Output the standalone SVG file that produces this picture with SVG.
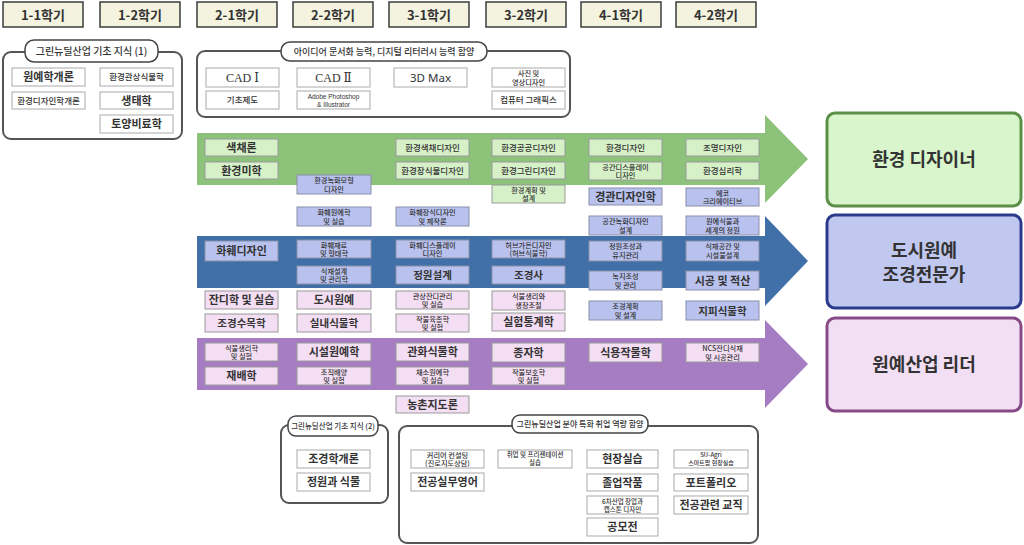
<svg xmlns="http://www.w3.org/2000/svg" width="1024" height="545" viewBox="0 0 1024 545">
<style>
text{font-family:"Noto Sans CJK KR","Noto Sans",sans-serif;fill:#333;text-anchor:middle}
.hdr{fill:#f3f3df;stroke:#3c3c3c;stroke-width:1.5}
.ht{font-size:13px;font-weight:700}
.grp{fill:#fff;stroke:#555;stroke-width:2}
.pill{fill:#fff;stroke:#444;stroke-width:1.5}
.pt{font-size:9px;font-weight:500}
.w{fill:#fff;stroke:#aaa;stroke-width:1}
.g{fill:#d6f0c8;stroke:#9a9a9a;stroke-width:1}
.b{fill:#b9c2ee;stroke:#8a90a8;stroke-width:1}
.p{fill:#f3def3;stroke:#9a9a9a;stroke-width:1}
.l{font-size:11px;font-weight:700}
.m{font-size:8.5px;font-weight:500}
.s{font-size:7.2px;font-weight:500}
.x{font-size:6.5px;font-weight:500}
.en{font-family:"Liberation Serif","DejaVu Serif",serif;font-size:12px;font-weight:400}
.car{font-size:18px;font-weight:700}
</style>

<!-- semester headers -->
<g id="headers">
<g id="h11"><rect class="hdr" x="3" y="2" width="80" height="25"/><text class="ht" x="43" y="19.5">1-1학기</text></g>
<g id="h12"><rect class="hdr" x="100" y="2" width="80" height="25"/><text class="ht" x="140" y="19.5">1-2학기</text></g>
<g id="h21"><rect class="hdr" x="197" y="2" width="80" height="25"/><text class="ht" x="237" y="19.5">2-1학기</text></g>
<g id="h22"><rect class="hdr" x="293" y="2" width="80" height="25"/><text class="ht" x="333" y="19.5">2-2학기</text></g>
<g id="h31"><rect class="hdr" x="389" y="2" width="80" height="25"/><text class="ht" x="429" y="19.5">3-1학기</text></g>
<g id="h32"><rect class="hdr" x="486" y="2" width="80" height="25"/><text class="ht" x="526" y="19.5">3-2학기</text></g>
<g id="h41"><rect class="hdr" x="581" y="2" width="80" height="25"/><text class="ht" x="621" y="19.5">4-1학기</text></g>
<g id="h42"><rect class="hdr" x="676" y="2" width="80" height="25"/><text class="ht" x="716" y="19.5">4-2학기</text></g>
</g>

<!-- connectors: track arrows -->
<g id="connectors">
<path d="M197,133 H765 V115 L808,159 L765,203 V185 H197 Z" fill="#8cc27a"/>
<path d="M197,236 H765 V216 L808,261 L765,306 V288 H197 Z" fill="#4170a8"/>
<path d="M197,338 H765 V320 L808,364 L765,408 V390 H197 Z" fill="#a67dc2"/>
</g>

<!-- group box 1 -->
<g id="basic1">
<rect class="grp" x="3" y="52" width="179" height="87" rx="8"/>
<rect class="pill" x="25" y="40" width="133" height="22" rx="9"/>
<text class="pt" x="91.5" y="54.5" style="font-size:10px">그린뉴딜산업 기초 지식 (1)</text>
</g>
<g id="n-wonye"><rect class="w" x="12" y="68" width="73" height="18"/><text class="l" x="48.5" y="81">원예학개론</text></g>
<g id="n-envdesign"><rect class="w" x="12" y="92" width="73" height="17"/><text class="m" x="48.5" y="103.5">환경디자인학개론</text></g>
<g id="n-envplant"><rect class="w" x="100" y="68" width="73" height="18"/><text class="m" x="136.5" y="80">환경관상식물학</text></g>
<g id="n-eco"><rect class="w" x="100" y="92" width="73" height="17"/><text class="l" x="136.5" y="104.5">생태학</text></g>
<g id="n-soil"><rect class="w" x="100" y="115" width="73" height="18"/><text class="l" x="136.5" y="128">토양비료학</text></g>

<!-- group box 2 -->
<g id="digital">
<rect class="grp" x="197" y="51" width="373" height="66" rx="8"/>
<rect class="pill" x="281" y="42" width="206" height="19" rx="9"/>
<text class="pt" x="384" y="55">아이디어 문서화 능력, 디지털 리터러시 능력 함양</text>
</g>
<g id="n-cad1"><rect class="w" x="206" y="68" width="73" height="19"/><text class="en" x="242.5" y="81.5">CAD Ⅰ</text></g>
<g id="n-draw"><rect class="w" x="206" y="91" width="73" height="18"/><text class="m" x="242.5" y="103">기초제도</text></g>
<g id="n-cad2"><rect class="w" x="297" y="68" width="73" height="19"/><text class="en" x="333.5" y="81.5">CAD Ⅱ</text></g>
<g id="n-adobe"><rect class="w" x="297" y="91" width="73" height="18"/><text class="x" x="333.5" y="99" style="font-family:'Liberation Sans',sans-serif;font-size:6.5px"><tspan x="333.5" y="99">Adobe Photoshop</tspan><tspan x="333.5" y="106.5">&amp; Illustrator</tspan></text></g>
<g id="n-3d"><rect class="w" x="394" y="68" width="73" height="19"/><text class="l" x="430.5" y="81.5" style="font-family:'Noto Sans',sans-serif;font-weight:400;font-size:11.5px">3D Max</text></g>
<g id="n-photo"><rect class="w" x="492" y="68" width="73" height="19"/><text class="s"><tspan x="528.5" y="76">사진 및</tspan><tspan x="528.5" y="84.5">영상디자인</tspan></text></g>
<g id="n-cg"><rect class="w" x="492" y="91" width="73" height="18"/><text class="m" x="528.5" y="103">컴퓨터 그래픽스</text></g>

<!-- green track -->
<g id="n-color"><rect class="g" x="205" y="139" width="73" height="17"/><text class="l" x="241.5" y="151.5">색채론</text></g>
<g id="n-aesth"><rect class="g" x="205" y="162" width="73" height="17"/><text class="l" x="241.5" y="174.5">환경미학</text></g>
<g id="n-greenmodel"><rect class="b" x="297" y="175" width="74" height="19"/><text class="s"><tspan x="334" y="183">환경녹화모형</tspan><tspan x="334" y="191.5">디자인</tspan></text></g>
<g id="n-flower"><rect class="b" x="297" y="207" width="74" height="19"/><text class="s"><tspan x="334" y="215">화훼원예학</tspan><tspan x="334" y="223.5">및 실습</tspan></text></g>
<g id="n-envcolor"><rect class="g" x="396" y="139" width="73" height="17"/><text class="m" x="432.5" y="150.5">환경색채디자인</text></g>
<g id="n-envdeco"><rect class="g" x="396" y="162" width="73" height="17"/><text class="m" x="432.5" y="173.5">환경장식물디자인</text></g>
<g id="n-floral"><rect class="b" x="396" y="207" width="73" height="19"/><text class="s"><tspan x="432.5" y="215">화훼장식디자인</tspan><tspan x="432.5" y="223.5">및 제작론</tspan></text></g>
<g id="n-public"><rect class="g" x="492" y="139" width="73" height="17"/><text class="m" x="528.5" y="150.5">환경공공디자인</text></g>
<g id="n-green"><rect class="g" x="492" y="162" width="73" height="17"/><text class="m" x="528.5" y="173.5">환경그린디자인</text></g>
<g id="n-envplan"><rect class="g" x="492" y="185" width="73" height="18"/><text class="s"><tspan x="528.5" y="192.5">환경계획 및</tspan><tspan x="528.5" y="201">설계</tspan></text></g>
<g id="n-envd"><rect class="g" x="589" y="139" width="73" height="17"/><text class="m" x="625.5" y="150.5">환경디자인</text></g>
<g id="n-display"><rect class="g" x="589" y="162" width="73" height="18"/><text class="s"><tspan x="625.5" y="169.5">공간디스플레이</tspan><tspan x="625.5" y="178">디자인</tspan></text></g>
<g id="n-landscape"><rect class="b" x="589" y="188" width="73" height="17"/><text class="l" x="625.5" y="200.5">경관디자인학</text></g>
<g id="n-spacegreen"><rect class="b" x="589" y="216" width="73" height="19"/><text class="s"><tspan x="625.5" y="224">공간녹화디자인</tspan><tspan x="625.5" y="232.5">설계</tspan></text></g>
<g id="n-light"><rect class="g" x="686" y="139" width="73" height="17"/><text class="m" x="722.5" y="150.5">조명디자인</text></g>
<g id="n-psych"><rect class="g" x="686" y="162" width="73" height="18"/><text class="m" x="722.5" y="174">환경심리학</text></g>
<g id="n-ecocreative"><rect class="b" x="686" y="188" width="73" height="18"/><text class="s"><tspan x="722.5" y="195.5">에코</tspan><tspan x="722.5" y="204">크리에이티브</tspan></text></g>
<g id="n-world"><rect class="b" x="686" y="216" width="73" height="19"/><text class="s"><tspan x="722.5" y="224">원예식물과</tspan><tspan x="722.5" y="232.5">세계의 정원</tspan></text></g>

<!-- blue track -->
<g id="n-flowerdesign"><rect class="b" x="205" y="241" width="73" height="20"/><text class="l" x="241.5" y="255">화훼디자인</text></g>
<g id="n-material"><rect class="b" x="297" y="240" width="74" height="18"/><text class="s"><tspan x="334" y="247.5">화훼재료</tspan><tspan x="334" y="256">및 형태학</tspan></text></g>
<g id="n-planting"><rect class="b" x="297" y="266" width="74" height="18"/><text class="s"><tspan x="334" y="273.5">식재설계</tspan><tspan x="334" y="282">및 관리학</tspan></text></g>
<g id="n-flowerdisp"><rect class="b" x="396" y="240" width="73" height="18"/><text class="s"><tspan x="432.5" y="247.5">화훼디스플레이</tspan><tspan x="432.5" y="256">디자인</tspan></text></g>
<g id="n-garden"><rect class="b" x="396" y="266" width="73" height="18"/><text class="l" x="432.5" y="279" style="font-size:10.5px">정원설계</text></g>
<g id="n-herb"><rect class="b" x="492" y="240" width="73" height="18"/><text class="s"><tspan x="528.5" y="247.5">허브가든디자인</tspan><tspan x="528.5" y="256">(허브식물학)</tspan></text></g>
<g id="n-history"><rect class="b" x="492" y="266" width="73" height="18"/><text class="l" x="528.5" y="279" style="font-size:10.5px">조경사</text></g>
<g id="n-maintain"><rect class="b" x="589" y="241" width="73" height="20"/><text class="s"><tspan x="625.5" y="249">정원조성과</tspan><tspan x="625.5" y="257.5">유지관리</tspan></text></g>
<g id="n-greenspace"><rect class="b" x="589" y="271" width="73" height="19"/><text class="s"><tspan x="625.5" y="279">녹지조성</tspan><tspan x="625.5" y="287.5">및 관리</tspan></text></g>
<g id="n-lplan"><rect class="b" x="589" y="301" width="73" height="19"/><text class="s"><tspan x="625.5" y="309">조경계획</tspan><tspan x="625.5" y="317.5">및 설계</tspan></text></g>
<g id="n-facility"><rect class="b" x="686" y="241" width="73" height="20"/><text class="s"><tspan x="722.5" y="249">식재공간 및</tspan><tspan x="722.5" y="257.5">시설물설계</tspan></text></g>
<g id="n-construct"><rect class="b" x="686" y="271" width="73" height="19"/><text class="l" x="722.5" y="284.5">시공 및 적산</text></g>
<g id="n-ground"><rect class="b" x="686" y="301" width="73" height="19"/><text class="l" x="722.5" y="314.5" style="font-size:10.5px">지피식물학</text></g>

<!-- pink rows -->
<g id="n-turf"><rect class="p" x="205" y="291" width="73" height="18"/><text class="l" x="241.5" y="304">잔디학 및 실습</text></g>
<g id="n-tree"><rect class="p" x="205" y="314" width="73" height="18"/><text class="l" x="241.5" y="327" style="font-size:10.5px">조경수목학</text></g>
<g id="n-urban"><rect class="p" x="297" y="291" width="74" height="18"/><text class="l" x="334" y="304">도시원예</text></g>
<g id="n-indoor"><rect class="p" x="297" y="314" width="74" height="18"/><text class="l" x="334" y="327" style="font-size:10.5px">실내식물학</text></g>
<g id="n-turfmgmt"><rect class="p" x="396" y="291" width="73" height="18"/><text class="s"><tspan x="432.5" y="298.5">관상잔디관리</tspan><tspan x="432.5" y="307">및 실습</tspan></text></g>
<g id="n-breeding"><rect class="p" x="396" y="314" width="73" height="18"/><text class="s"><tspan x="432.5" y="321.5">작물육종학</tspan><tspan x="432.5" y="330">및 실험</tspan></text></g>
<g id="n-growth"><rect class="p" x="492" y="291" width="73" height="19"/><text class="s"><tspan x="528.5" y="299">식물생리와</tspan><tspan x="528.5" y="307.5">생장조절</tspan></text></g>
<g id="n-stat"><rect class="p" x="492" y="313" width="73" height="18"/><text class="l" x="528.5" y="326">실험통계학</text></g>

<!-- purple track -->
<g id="n-physio"><rect class="p" x="205" y="343" width="73" height="18"/><text class="s"><tspan x="241.5" y="350.5">식물생리학</tspan><tspan x="241.5" y="359">및 실험</tspan></text></g>
<g id="n-cultivation"><rect class="p" x="205" y="367" width="73" height="18"/><text class="l" x="241.5" y="380">재배학</text></g>
<g id="n-greenhouse"><rect class="p" x="297" y="343" width="74" height="18"/><text class="l" x="334" y="356">시설원예학</text></g>
<g id="n-tissue"><rect class="p" x="297" y="367" width="74" height="18"/><text class="s"><tspan x="334" y="374.5">조직배양</tspan><tspan x="334" y="383">및 실험</tspan></text></g>
<g id="n-ornamental"><rect class="p" x="396" y="343" width="73" height="18"/><text class="l" x="432.5" y="356">관화식물학</text></g>
<g id="n-vegetable"><rect class="p" x="396" y="367" width="73" height="18"/><text class="s"><tspan x="432.5" y="374.5">채소원예학</tspan><tspan x="432.5" y="383">및 실습</tspan></text></g>
<g id="n-rural"><rect class="p" x="396" y="396" width="73" height="17"/><text class="l" x="432.5" y="408.5">농촌지도론</text></g>
<g id="n-seed"><rect class="p" x="492" y="343" width="73" height="19"/><text class="l" x="528.5" y="356.5">종자학</text></g>
<g id="n-protect"><rect class="p" x="492" y="367" width="73" height="18"/><text class="s"><tspan x="528.5" y="374.5">작물보호학</tspan><tspan x="528.5" y="383">및 실험</tspan></text></g>
<g id="n-crop"><rect class="p" x="589" y="343" width="73" height="19"/><text class="l" x="625.5" y="356.5">식용작물학</text></g>
<g id="n-ncs"><rect class="p" x="686" y="343" width="73" height="19"/><text class="s"><tspan x="722.5" y="351">NCS잔디식재</tspan><tspan x="722.5" y="359.5">및 시공관리</tspan></text></g>

<!-- careers -->
<g id="career-designer"><rect x="827" y="113" width="194" height="93" rx="8" fill="#d8f5cc" stroke="#5c8f48" stroke-width="3"/><text class="car" x="924" y="166">환경 디자이너</text></g>
<g id="career-landscape"><rect x="827" y="215" width="194" height="93" rx="8" fill="#c0c8f0" stroke="#2c3a8c" stroke-width="3"/><text class="car"><tspan x="924" y="257">도시원예</tspan><tspan x="924" y="281">조경전문가</tspan></text></g>
<g id="career-leader"><rect x="827" y="318" width="194" height="93" rx="8" fill="#f3dff3" stroke="#874a87" stroke-width="3"/><text class="car" x="924" y="371">원예산업 리더</text></g>

<!-- group box 3 -->
<g id="basic2">
<rect class="grp" x="281" y="425" width="107" height="78" rx="8"/>
<rect class="pill" x="288" y="416" width="90" height="20" rx="8"/>
<text class="x" x="333" y="429" style="font-size:7.5px">그린뉴딜산업 기초 지식 (2)</text>
</g>
<g id="n-intro"><rect class="w" x="297" y="450" width="73" height="18"/><text class="l" x="333.5" y="463">조경학개론</text></g>
<g id="n-gardenplant"><rect class="w" x="297" y="473" width="73" height="18"/><text class="l" x="333.5" y="486">정원과 식물</text></g>

<!-- group box 4 -->
<g id="employ">
<rect class="grp" x="399" y="426" width="359" height="117" rx="8"/>
<rect class="pill" x="512" y="415" width="136" height="18" rx="8"/>
<text class="x" x="580" y="427" style="font-size:8px">그린뉴딜산업 분야 특화 취업 역량 함양</text>
</g>
<g id="n-career"><rect class="w" x="411" y="450" width="73" height="18"/><text class="s"><tspan x="447.5" y="457.5">커리어 컨설팅</tspan><tspan x="447.5" y="466">(진로지도상담)</tspan></text></g>
<g id="n-english"><rect class="w" x="411" y="473" width="73" height="18"/><text class="l" x="447.5" y="486">전공실무영어</text></g>
<g id="n-present"><rect class="w" x="498" y="450" width="74" height="18"/><text class="x"><tspan x="535" y="457">취업 및 프리젠테이션</tspan><tspan x="535" y="465">실습</tspan></text></g>
<g id="n-field"><rect class="w" x="587" y="450" width="71" height="18"/><text class="l" x="622.5" y="463">현장실습</text></g>
<g id="n-grad"><rect class="w" x="587" y="474" width="71" height="17"/><text class="l" x="622.5" y="486.5">졸업작품</text></g>
<g id="n-capstone"><rect class="w" x="587" y="496" width="71" height="18"/><text class="x"><tspan x="622.5" y="503.5">6차산업 창업과</tspan><tspan x="622.5" y="511.5">캡스톤 디자인</tspan></text></g>
<g id="n-contest"><rect class="w" x="587" y="518" width="71" height="18"/><text class="l" x="622.5" y="531">공모전</text></g>
<g id="n-suagri"><rect class="w" x="674" y="450" width="74" height="18"/><text class="x" style="font-size:6px"><tspan x="711" y="457">SU-Agri</tspan><tspan x="711" y="465">스마트팜 현장실습</tspan></text></g>
<g id="n-portfolio"><rect class="w" x="674" y="474" width="74" height="17"/><text class="l" x="711" y="486.5">포트폴리오</text></g>
<g id="n-teach"><rect class="w" x="674" y="496" width="74" height="18"/><text class="l" x="711" y="509">전공관련 교직</text></g>
</svg>
